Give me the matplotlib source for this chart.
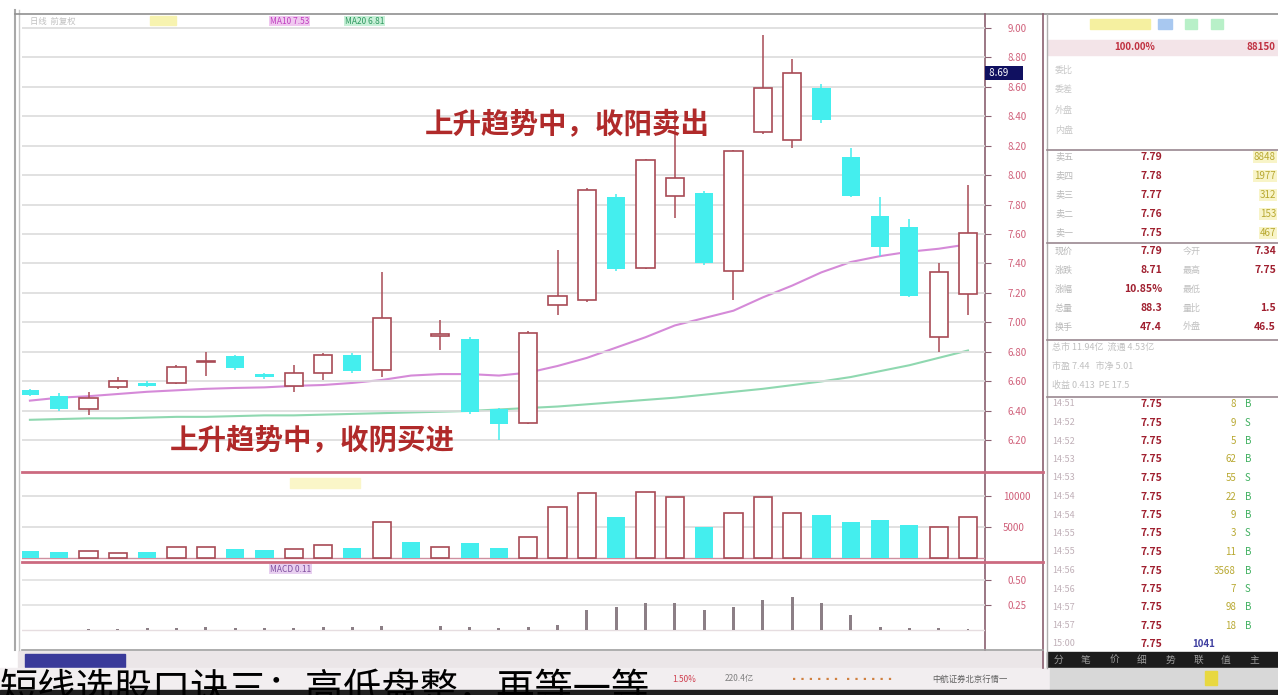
import numpy as np
import matplotlib
matplotlib.use('Agg')
import matplotlib.pyplot as plt
from matplotlib.patches import Rectangle

plt.rcParams['font.family'] = ['Noto Sans CJK SC', 'DejaVu Sans']

nan = np.nan
# daily candles (index 13 has no visible candle)
opens = [6.54, 6.50, 6.41, 6.56, 6.59, 6.59, 6.73, 6.77, 6.65, 6.57, 6.66, 6.78, 6.68, nan, 6.91, 6.89, 6.41,
         6.32, 7.12, 7.15, 7.85, 7.37, 7.86, 7.88, 7.35, 8.29, 8.24, 8.59, 8.12, 7.72, 7.65, 6.90, 7.19]
highs = [6.55, 6.52, 6.53, 6.63, 6.60, 6.71, 6.80, 6.78, 6.66, 6.71, 6.79, 6.79, 7.34, nan, 7.02, 6.90, 6.42,
         6.94, 7.49, 7.91, 7.87, 8.11, 8.44, 7.89, 8.17, 8.95, 8.79, 8.62, 8.18, 7.85, 7.70, 7.40, 7.93]
lows = [6.50, 6.40, 6.37, 6.55, 6.56, 6.58, 6.64, 6.68, 6.62, 6.53, 6.61, 6.66, 6.63, nan, 6.81, 6.38, 6.20,
        6.31, 7.05, 7.14, 7.35, 7.36, 7.71, 7.39, 7.15, 8.28, 8.18, 8.35, 7.85, 7.45, 7.17, 6.80, 7.05]
closes = [6.51, 6.41, 6.49, 6.60, 6.57, 6.70, 6.74, 6.69, 6.63, 6.66, 6.78, 6.67, 7.03, nan, 6.92, 6.39, 6.31,
          6.93, 7.18, 7.90, 7.36, 8.10, 7.98, 7.40, 8.16, 8.59, 8.69, 8.37, 7.86, 7.51, 7.18, 7.34, 7.61]
down_flags = [1, 1, 0, 0, 1, 0, 0, 1, 1, 0, 0, 1, 0, 1, 0, 1, 1,
              0, 0, 0, 1, 0, 0, 1, 0, 0, 0, 1, 1, 1, 1, 0, 0]
ma10 = [6.47, 6.49, 6.50, 6.515, 6.53, 6.54, 6.55, 6.556, 6.56, 6.57, 6.576, 6.59, 6.61, 6.64, 6.65, 6.65,
        6.64, 6.66, 6.705, 6.76, 6.83, 6.90, 6.98, 7.03, 7.08, 7.17, 7.25, 7.34, 7.41, 7.45, 7.48, 7.50, 7.53]
ma20 = [6.34, 6.345, 6.35, 6.35, 6.355, 6.36, 6.36, 6.365, 6.37, 6.37, 6.375, 6.38, 6.385, 6.39, 6.395, 6.40,
        6.41, 6.42, 6.43, 6.445, 6.46, 6.475, 6.49, 6.51, 6.53, 6.55, 6.575, 6.60, 6.63, 6.67, 6.71, 6.76, 6.81]
volumes = [1130, 970, 1130, 810, 970, 1770, 1770, 1450, 1290, 1450, 2100, 1610, 5800, 2580, 1770, 2420, 1610,
           3390, 8230, 10480, 6610, 10650, 9840, 5000, 7260, 9840, 7260, 6940, 5810, 6130, 5320, 5000, 6610]
macd = [0.0, 0.0, 0.01, 0.01, 0.02, 0.02, 0.03, 0.02, 0.02, 0.02, 0.03, 0.03, 0.04, nan, 0.04, 0.03, 0.02,
        0.03, 0.05, 0.20, 0.23, 0.27, 0.27, 0.20, 0.23, 0.30, 0.33, 0.27, 0.15, 0.03, 0.02, 0.02, 0.01]

price_ticks = [6.2, 6.4, 6.6, 6.8, 7.0, 7.2, 7.4, 7.6, 7.8, 8.0, 8.2, 8.4, 8.6, 8.8, 9.0]
cursor_price = 8.69

ask_labels = ['卖五', '卖四', '卖三', '卖二', '卖一']
ask_prices = ['7.79', '7.78', '7.77', '7.76', '7.75']
ask_vols = ['8848', '1977', '312', '153', '467']
quote_left = ['7.79', '8.71', '10.85%', '88.3', '47.4']
quote_right = ['7.34', '7.75', '', '1.5', '46.5']
tick_times = ['14:51', '14:52', '14:52', '14:53', '14:53', '14:54', '14:54',
              '14:55', '14:55', '14:56', '14:56', '14:57', '14:57']
tick_prices = ['7.75'] * 13
tick_vols = ['8', '9', '5', '62', '55', '22', '9', '3', '11', '3568', '7', '98', '18']
tick_side = ['B', 'S', 'B', 'B', 'S', 'B', 'B', 'S', 'B', 'B', 'S', 'B', 'B']

caption = '短线选股口诀三：高低盘整，再等一等'

UP_EDGE = '#a84a55'
CYAN = '#44eeee'
LABEL = '#d0607a'
W, H = 1278, 695


def box(x0, y0, x1, y1):
    return [x0 / W, 1 - y1 / H, (x1 - x0) / W, (y1 - y0) / H]


fig = plt.figure(figsize=(12.78, 6.95), dpi=100)

# background / frame in pixel coordinates
bg = fig.add_axes([0, 0, 1, 1])
bg.set_xlim(0, W)
bg.set_ylim(H, 0)
bg.axis('off')
bg.add_patch(Rectangle((0, 0), W, H, color='white'))
bg.plot([15, 15], [10, 650], color='#a8a8a8', lw=1.5)
bg.plot([19, 19], [10, 650], color='#c8c8c8', lw=1)
bg.plot([15, W], [14, 14], color='#909090', lw=1.2)
bg.plot([985, 985], [14, 650], color='#8a6070', lw=1.2)
bg.plot([1043, 1043], [14, 668], color='#8a6070', lw=1.2)
bg.plot([1047, 1047], [14, 668], color='#b0b0b0', lw=1)
bg.plot([22, 1043], [472, 472], color='#cc6a80', lw=2)
bg.plot([22, 1043], [562, 562], color='#cc6a80', lw=2)
bg.plot([22, 1043], [650, 650], color='#a0a0a0', lw=1.2)

# chart header texts
bg.text(30, 21, '日线  前复权', fontsize=6, color='#c0c0c0', va='center')
bg.add_patch(Rectangle((150, 16), 26, 9, color='#f7f3b0'))
bg.text(270, 21, f'MA10 {ma10[-1]:.2f}', fontsize=6, color='#c040c0', va='center',
        bbox=dict(boxstyle='square,pad=0.1', fc='#f0c8f0', ec='none'))
bg.text(345, 21, f'MA20 {ma20[-1]:.2f}', fontsize=6, color='#2f9a60', va='center',
        bbox=dict(boxstyle='square,pad=0.1', fc='#c8f0d8', ec='none'))
bg.add_patch(Rectangle((290, 478), 70, 10, color='#faf6c8'))
bg.text(270, 569, 'MACD 0.11', fontsize=6, color='#8050a0', va='center',
        bbox=dict(boxstyle='square,pad=0.1', fc='#e8d0f0', ec='none'))

# status bar and caption strip
bg.add_patch(Rectangle((18, 651), 1025, 17, color='#ebe6e8'))
bg.add_patch(Rectangle((25, 654), 100, 13, color='#3a3a9a'))
bg.add_patch(Rectangle((1047, 652), W - 1047, 16, color='#1c1c1c'))
for k, t in enumerate(['分', '笔', '价', '细', '势', '联', '值', '主']):
    bg.text(1058 + k * 28, 660, t, fontsize=7, color='#9a9a9a', va='center', ha='center')
bg.add_patch(Rectangle((0, 668), 1050, 22, color='#f2eef0'))
bg.add_patch(Rectangle((1050, 668), W - 1050, 22, color='#d8d8d8'))
bg.add_patch(Rectangle((0, 690), W, 5, color='#202020'))
bg.text(672, 679, '1.50%', fontsize=6, color='#d04050', va='center')
bg.text(725, 679, '220.4亿', fontsize=6, color='#808080', va='center')
bg.text(790, 679, '▪▪▪▪▪▪  ▪▪▪▪▪▪', fontsize=6, color='#d08040', va='center')
bg.text(932, 679, '中航证券北京行情一', fontsize=6, color='#606060', va='center')
bg.add_patch(Rectangle((1205, 671), 12, 14, color='#e8d840'))

bg.text(0, 671, caption, fontsize=27.5, color='black', va='top', ha='left')

# right information panel
bg.add_patch(Rectangle((1090, 19), 60, 10, color='#f5f0a0'))
bg.add_patch(Rectangle((1158, 19), 14, 10, color='#a8c8f0'))
bg.add_patch(Rectangle((1185, 19), 12, 10, color='#b8f0c8'))
bg.add_patch(Rectangle((1211, 19), 12, 10, color='#b8f0c8'))
bg.add_patch(Rectangle((1048, 40), W - 1048, 15, color='#f3e4e8'))
bg.text(1135, 47, '100.00%', fontsize=7, color='#c03040', weight='bold', va='center', ha='center')
bg.text(1275, 47, '88150', fontsize=7, color='#c03040', weight='bold', va='center', ha='right')
for k, t in enumerate(['委比', '委差', '外盘', '内盘']):
    bg.text(1055, 70 + k * 20, t, fontsize=6.5, color='#c8c8c8', va='center')
for yy in [150, 243, 340, 397]:
    bg.plot([1047, W], [yy, yy], color='#9a8890', lw=1.2)
for k in range(5):
    yy = 157 + k * 19
    bg.text(1055, yy, ask_labels[k], fontsize=6.5, color='#b8b8b8', va='center')
    bg.text(1162, yy, ask_prices[k], fontsize=7.5, color='#a02030', weight='bold',
            style='italic', va='center', ha='right')
    bg.text(1276, yy, ask_vols[k], fontsize=7, color='#b8a830', va='center', ha='right',
            bbox=dict(boxstyle='square,pad=0.1', fc='#f8f4c8', ec='none'))
q_names_l = ['现价', '涨跌', '涨幅', '总量', '换手']
q_names_r = ['今开', '最高', '最低', '量比', '外盘']
for k in range(5):
    yy = 251 + k * 19
    bg.text(1055, yy, q_names_l[k], fontsize=6.5, color='#b8b8b8', va='center')
    bg.text(1183, yy, q_names_r[k], fontsize=6.5, color='#c0c0c0', va='center')
    bg.text(1162, yy, quote_left[k], fontsize=7.5, color='#a02030', weight='bold',
            style='italic', va='center', ha='right')
    bg.text(1276, yy, quote_right[k], fontsize=7.5, color='#a02030', weight='bold',
            style='italic', va='center', ha='right')
for k, t in enumerate(['总市 11.94亿  流通 4.53亿', '市盈 7.44   市净 5.01', '收益 0.413  PE 17.5']):
    bg.text(1052, 347 + k * 19, t, fontsize=6.5, color='#c0c0c0', va='center')
for k in range(13):
    yy = 404 + k * 18.5
    bg.text(1052, yy, tick_times[k], fontsize=6.5, color='#c0b0b8', va='center')
    bg.text(1162, yy, tick_prices[k], fontsize=7.5, color='#a02030', weight='bold',
            style='italic', va='center', ha='right')
    bg.text(1236, yy, tick_vols[k], fontsize=7, color='#b8a830', va='center', ha='right')
    bg.text(1245, yy, tick_side[k], fontsize=7, color='#40b060', va='center')
bg.text(1052, 644, '15:00', fontsize=6.5, color='#c0b0b8', va='center')
bg.text(1162, 644, '7.75', fontsize=7.5, color='#a02030', weight='bold', style='italic',
        va='center', ha='right')
bg.text(1215, 644, '1041', fontsize=7, color='#4040a0', weight='bold', va='center', ha='right')

x = np.arange(len(opens))
o = np.array(opens)
c = np.array(closes)
hi = np.array(highs)
lo = np.array(lows)
down = np.array(down_flags, dtype=bool)
up = ~down

# price panel
ax = fig.add_axes(box(22, 14, 985, 472))
ax.patch.set_alpha(0)
ax.set_xlim(-0.27, 32.58)
ax.set_ylim(5.986, 9.092)
for s in ax.spines.values():
    s.set_visible(False)
ax.set_xticks([])
ax.set_yticks(price_ticks)
ax.yaxis.set_major_formatter(matplotlib.ticker.FormatStrFormatter('%.2f'))
ax.yaxis.set_ticks_position('right')
ax.tick_params(axis='y', length=4, color='#8a6070', labelcolor=LABEL, labelsize=7, pad=12)
ax.grid(axis='y', color='#dcdcdc', lw=1.2)

ax.vlines(x[up], lo[up], hi[up], color=UP_EDGE, lw=1.1, zorder=2)
ax.vlines(x[down], lo[down], hi[down], color=CYAN, lw=1.1, zorder=2)
body_lo = np.fmin(o, c)
body_h = np.abs(c - o)
ax.bar(x[up], body_h[up], bottom=body_lo[up], width=0.62, facecolor='white',
       edgecolor=UP_EDGE, lw=1.2, zorder=3)
ax.bar(x[down], body_h[down], bottom=body_lo[down], width=0.62, color=CYAN, zorder=3)
ax.plot(x, ma10, color='#d58ad8', lw=1.5, zorder=1)
ax.plot(x, ma20, color='#8fd8b0', lw=1.5, zorder=1)

ax.text(0.566, 0.758, '上升趋势中，收阳卖出', transform=ax.transAxes, fontsize=20.5,
        color='#b02a2a', weight='bold', ha='center', va='center')
ax.text(0.301, 0.070, '上升趋势中，收阴买进', transform=ax.transAxes, fontsize=20.5,
        color='#b02a2a', weight='bold', ha='center', va='center')
ax.text(1.0 + 2 / 963, cursor_price, f' {cursor_price:.2f}      ', transform=ax.get_yaxis_transform(),
        fontsize=7, color='white', va='center', ha='left', clip_on=False, zorder=5,
        bbox=dict(boxstyle='square,pad=0.2', fc='#101060', ec='none'))

# volume panel
axv = fig.add_axes(box(22, 472, 985, 562))
axv.patch.set_alpha(0)
axv.set_xlim(-0.27, 32.58)
axv.set_ylim(-645, 13870)
for s in axv.spines.values():
    s.set_visible(False)
axv.set_xticks([])
axv.set_yticks([5000, 10000])
axv.yaxis.set_ticks_position('right')
axv.tick_params(axis='y', length=4, color='#8a6070', labelcolor=LABEL, labelsize=7, pad=9)
axv.grid(axis='y', color='#dcdcdc', lw=1.2)
vol = np.array(volumes)
axv.bar(x[up], vol[up], width=0.62, facecolor='white', edgecolor=UP_EDGE, lw=1.2, zorder=3)
axv.bar(x[down], vol[down], width=0.62, color=CYAN, zorder=3)
axv.axhline(0, color='#d090a0', lw=1, zorder=2)

# macd panel
axm = fig.add_axes(box(22, 562, 985, 650))
axm.patch.set_alpha(0)
axm.set_xlim(-0.27, 32.58)
axm.set_ylim(-0.20, 0.68)
for s in axm.spines.values():
    s.set_visible(False)
axm.set_xticks([])
axm.set_yticks([0.25, 0.5])
axm.yaxis.set_ticks_position('right')
axm.tick_params(axis='y', length=4, color='#8a6070', labelcolor=LABEL, labelsize=7, pad=12)
axm.grid(axis='y', color='#e0e0e0', lw=1.2)
axm.bar(x, macd, width=0.1, color='#8c7f86', zorder=3)
axm.axhline(0, color='#e6dde0', lw=1, zorder=2)

fig.savefig('out.png', dpi=100)
